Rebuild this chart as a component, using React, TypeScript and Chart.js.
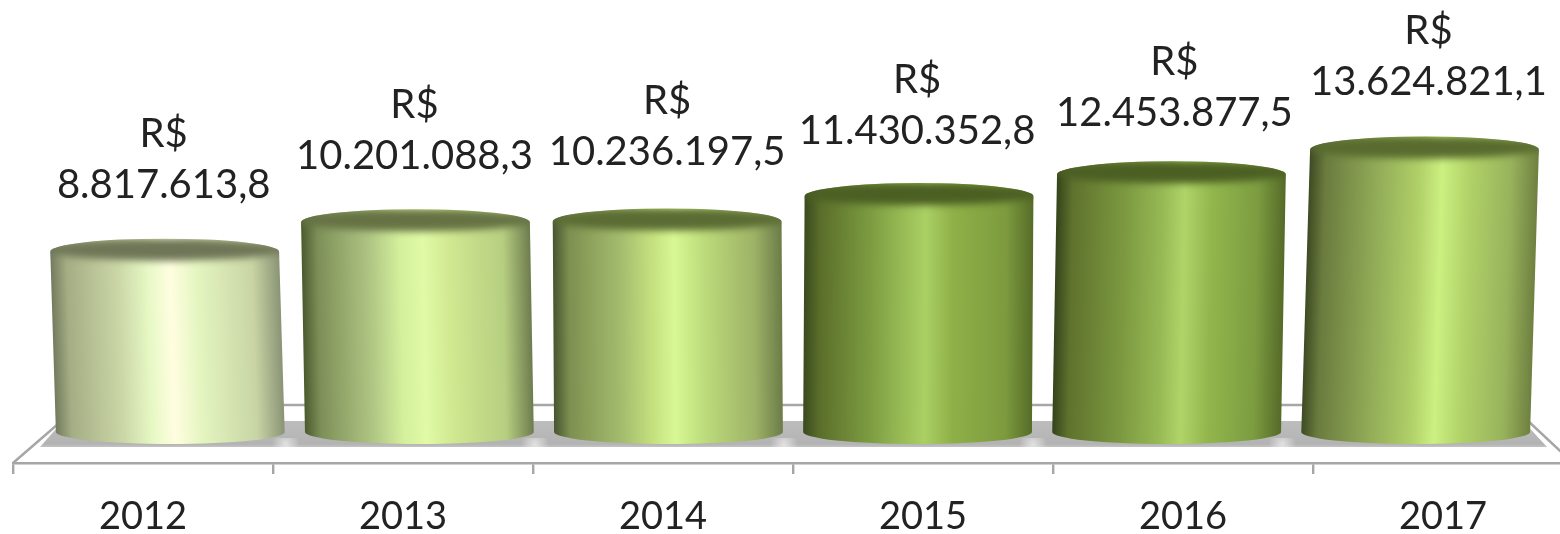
import React, { useEffect, useRef } from "react";
import { Chart, registerables } from "chart.js";

Chart.register(...registerables);

const years = ["2012", "2013", "2014", "2015", "2016", "2017"];
const receipts = [8817613.8, 10201088.3, 10236197.5, 11430352.8, 12453877.5, 13624821.1];
const currencyPrefix = "R$";

const labelNudgeX = [-1, -1, 0, -2, 3, 4];
const labelNudgeY = [0, 1, -2, 2, 6, 0];
const peakAt = [0.52, 0.53, 0.53, 0.53, 0.56, 0.58];

const topColors = ["#6f7657", "#667244", "#5b6c34", "#4b5f23", "#4b5f23", "#596b2f"];
const sideColors = [
  ["#737b5e", "#a4ad84", "#ccd8a8", "#e6f8c4", "#fffee0", "#e4f5c0", "#c8d4a4", "#8a9476"],
  ["#4b5a2e", "#7d8f58", "#b0c684", "#d4f09c", "#e0faa6", "#d0e890", "#b6ce80", "#6e7c4e"],
  ["#475430", "#7e8f50", "#a4bd6e", "#c4e07e", "#d8f895", "#bedd7c", "#9db266", "#6c7c48"],
  ["#3a4a1e", "#5a6e2a", "#7e9e42", "#98bb55", "#aad064", "#8fb048", "#7d9b3e", "#566c28"],
  ["#35431b", "#5f722d", "#7c9940", "#96b854", "#b0d468", "#92b64c", "#7c9c40", "#556a28"],
  ["#3e4a22", "#6a7b3e", "#92ac58", "#b0d068", "#ccf082", "#b0d268", "#98b35c", "#6f8040"],
];

const FAMILY = 'Lato, "Noto Sans", sans-serif';
const LABEL_FONT = `40px ${FAMILY}`;
const TEXT = "#222222";
const fmt = new Intl.NumberFormat("pt-BR", { minimumFractionDigits: 1, maximumFractionDigits: 1 });

const topRy = 13;
const baseRy = 12;
const depthScale = 0.958;
const skew = 0.00005;

function botX(chart: any, x: number) {
  const c = (chart.chartArea.left + chart.chartArea.right) / 2;
  return c + (x - c) * depthScale;
}

function floorPlugin() {
  return {
    id: "floor3d",
    beforeDatasetsDraw(chart: any) {
      const { ctx, chartArea } = chart;
      const L = chartArea.left;
      const R = chartArea.right;
      const F = chartArea.bottom;
      const backY = F - 58;
      ctx.save();
      ctx.strokeStyle = "#a6a6a6";
      ctx.lineWidth = 2.4;
      ctx.beginPath();
      ctx.moveTo(L, F);
      ctx.lineTo(L + 67, backY);
      ctx.lineTo(R - 62, backY);
      ctx.lineTo(R, F);
      ctx.stroke();

      const g = ctx.createLinearGradient(0, F - 42, 0, F - 15);
      g.addColorStop(0, "#bdbdbd");
      g.addColorStop(0.85, "#b3b3b3");
      g.addColorStop(1, "#c8c8c8");
      ctx.fillStyle = g;
      ctx.beginPath();
      ctx.moveTo(L + 27, F - 16);
      ctx.lineTo(L + 50, F - 42);
      ctx.lineTo(R - 50, F - 42);
      ctx.lineTo(R - 26, F - 16);
      ctx.closePath();
      ctx.fill();

      const els = chart.getDatasetMeta(0).data;
      for (let i = 0; i < els.length - 1; i++) {
        const gx = (botX(chart, els[i].x) + botX(chart, els[i + 1].x)) / 2 - 9;
        const gy = F - 19;
        const rg = ctx.createRadialGradient(gx, gy, 0, gx, gy, 14);
        rg.addColorStop(0, "rgba(255,255,255,0.6)");
        rg.addColorStop(1, "rgba(255,255,255,0)");
        ctx.fillStyle = rg;
        ctx.fillRect(gx - 14, gy - 6, 28, 9);
      }
      ctx.restore();
    },
    beforeDatasetDraw() {
      return false;
    },
  };
}

function cylinderPlugin() {
  return {
    id: "cylinders",
    afterDatasetsDraw(chart: any) {
      const { ctx } = chart;
      const meta = chart.getDatasetMeta(0);
      const c = (chart.chartArea.left + chart.chartArea.right) / 2;
      meta.data.forEach((bar: any, i: number) => {
        const cx = botX(chart, bar.x);
        const baseY = bar.base - 7;
        const topY = bar.y;
        const rx = bar.width / 2;
        const k = skew * (cx - c);
        ctx.save();
        ctx.transform(1, 0, -k, 1, k * baseY, 0);
        const path = new Path2D();
        path.moveTo(cx - rx, baseY);
        path.lineTo(cx - rx, topY);
        path.ellipse(cx, topY, rx, topRy, 0, Math.PI, 2 * Math.PI);
        path.lineTo(cx + rx, baseY);
        path.ellipse(cx, baseY, rx, baseRy, 0, 0, Math.PI);
        path.closePath();
        const p = peakAt[i];
        const stops = [0, 0.07, 0.3, p - 0.1, p, p + 0.12, 0.88, 1];
        const g = ctx.createLinearGradient(cx - rx, 0, cx + rx, 0);
        stops.forEach((s, j) => g.addColorStop(s, sideColors[i][j]));
        ctx.fillStyle = g;
        ctx.fill(path);
        ctx.clip(path);
        ctx.filter = "blur(3.5px)";
        ctx.fillStyle = topColors[i];
        ctx.beginPath();
        ctx.ellipse(cx, topY - 2, rx + 5, 11, 0, 0, 2 * Math.PI);
        ctx.fill();
        ctx.filter = "none";
        ctx.restore();

        const tx = cx + k * (baseY - topY) + labelNudgeX[i];
        const ty = topY + labelNudgeY[i];
        ctx.save();
        ctx.fillStyle = TEXT;
        ctx.font = LABEL_FONT;
        ctx.textAlign = "center";
        ctx.textBaseline = "middle";
        ctx.fillText(currencyPrefix, tx, ty - 118);
        ctx.fillText(fmt.format(receipts[i]), tx, ty - 67);
        ctx.restore();
      });
    },
  };
}

export default function App() {
  const ref = useRef<HTMLCanvasElement>(null);
  useEffect(() => {
    const chart = new Chart(ref.current as HTMLCanvasElement, {
      type: "bar",
      data: {
        labels: years,
        datasets: [
          {
            data: receipts,
            backgroundColor: sideColors.map((c) => c[4]),
            barPercentage: 0.88,
            categoryPercentage: 1,
          },
        ],
      },
      options: {
        responsive: false,
        animation: false,
        layout: { padding: { left: 13, right: 2, top: 0, bottom: 0 } },
        plugins: { legend: { display: false }, tooltip: { enabled: false }, title: { display: false } },
        scales: {
          y: { display: false, min: -1130000, max: 20660000 },
          x: {
            afterFit: (s: any) => {
              s.height = 71;
            },
            border: { color: "#a6a6a6", width: 2.4 },
            grid: { color: "#a6a6a6", lineWidth: 2.4, drawOnChartArea: false, drawTicks: true, tickLength: 11, offset: true },
            ticks: {
              color: TEXT,
              padding: 20,
              maxRotation: 0,
              font: { family: FAMILY, size: 38 },
            },
          },
        },
      },
      plugins: [floorPlugin(), cylinderPlugin()],
    } as any);
    return () => chart.destroy();
  }, []);
  return (
    <div style={{ position: "absolute", left: 0, top: 0, width: 1560, height: 534, overflow: "hidden", background: "#fff" }}>
      <canvas ref={ref} width={1575} height={534} style={{ display: "block" }} />
    </div>
  );
}
